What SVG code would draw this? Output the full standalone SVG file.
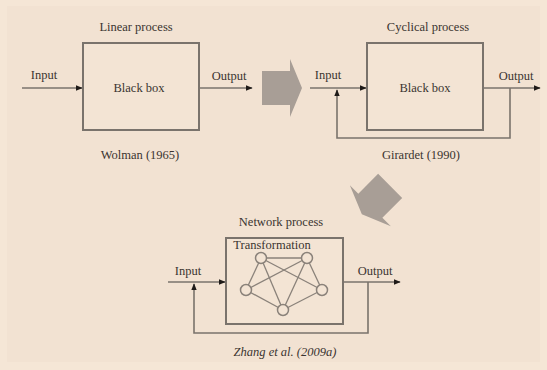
<svg xmlns="http://www.w3.org/2000/svg" width="547" height="370" viewBox="0 0 547 370">
<defs>
<style>
.t{font-family:"Liberation Serif","DejaVu Serif",serif;font-size:12.5px;fill:#3a3430;text-anchor:middle}
.box{fill:#f3e4d4;stroke:#7a736c;stroke-width:2}
.ln{fill:none;stroke:#7a736c;stroke-width:1.6}
.fat{fill:#a89e96}
.nd{fill:#f3e4d4;stroke:#8a827a;stroke-width:1.5}
.ed{stroke:#8a827a;stroke-width:1.3;fill:none}
</style>
<marker id="ah" viewBox="0 0 10 10" refX="9" refY="5" markerWidth="7" markerHeight="7" markerUnits="userSpaceOnUse" orient="auto">
<path d="M0,1 L10,5 L0,9 Z" fill="#1e1a18"/>
</marker>
<path id="fatArrow" d="M-20,-17 L8,-17 L8,-29 L20,0 L8,29 L8,17 L-20,17 Z"/>
</defs>
<rect x="0" y="0" width="547" height="370" fill="#f5e6d6"/>
<rect x="7" y="6" width="533" height="356" fill="#f2e2d2"/>

<g id="connectors">
<line class="ln" x1="22" y1="88" x2="82" y2="88" marker-end="url(#ah)"/>
<line class="ln" x1="199" y1="88" x2="252" y2="88" marker-end="url(#ah)"/>
<line class="ln" x1="310" y1="88" x2="366" y2="88" marker-end="url(#ah)"/>
<line class="ln" x1="484" y1="88" x2="540" y2="88" marker-end="url(#ah)"/>
<polyline class="ln" points="510,88 510,138 337,138 337,90" marker-end="url(#ah)"/>
<line class="ln" x1="168" y1="282" x2="225" y2="282" marker-end="url(#ah)"/>
<line class="ln" x1="344" y1="282" x2="400" y2="282" marker-end="url(#ah)"/>
<polyline class="ln" points="368,282 368,333 194,333 194,284" marker-end="url(#ah)"/>
</g>

<g id="fat-arrow-1"><use href="#fatArrow" class="fat" transform="translate(282,88)"/></g>
<g id="fat-arrow-2"><use href="#fatArrow" class="fat" transform="translate(376,200) rotate(135)"/></g>

<g id="linear">
<text class="t" x="136" y="31">Linear process</text>
<rect class="box" x="83" y="43" width="116" height="87"/>
<text class="t" x="139" y="92">Black box</text>
<text class="t" x="44" y="79">Input</text>
<text class="t" x="229" y="80">Output</text>
<text class="t" x="140" y="159">Wolman (1965)</text>
</g>

<g id="cyclical">
<text class="t" x="428" y="31">Cyclical process</text>
<rect class="box" x="367" y="43" width="116" height="87"/>
<text class="t" x="425" y="92">Black box</text>
<text class="t" x="328" y="79">Input</text>
<text class="t" x="516" y="80">Output</text>
<text class="t" x="421" y="159">Girardet (1990)</text>
</g>

<g id="network">
<text class="t" x="281" y="226">Network process</text>
<rect class="box" x="226" y="238" width="117" height="86"/>
<text class="t" x="272" y="249">Transformation</text>
<g class="ed">
<line x1="261" y1="258" x2="307" y2="258"/>
<line x1="261" y1="258" x2="246" y2="290"/>
<line x1="261" y1="258" x2="283" y2="310"/>
<line x1="261" y1="258" x2="322" y2="290"/>
<line x1="307" y1="258" x2="322" y2="290"/>
<line x1="307" y1="258" x2="283" y2="310"/>
<line x1="307" y1="258" x2="246" y2="290"/>
<line x1="246" y1="290" x2="283" y2="310"/>
<line x1="322" y1="290" x2="283" y2="310"/>
</g>
<circle class="nd" cx="261" cy="258" r="5.5"/>
<circle class="nd" cx="307" cy="258" r="5.5"/>
<circle class="nd" cx="246" cy="290" r="5.5"/>
<circle class="nd" cx="322" cy="290" r="5.5"/>
<circle class="nd" cx="283" cy="310" r="5.5"/>
<text class="t" x="188" y="275">Input</text>
<text class="t" x="375" y="275">Output</text>
<text class="t" x="285" y="356" font-style="italic">Zhang et al. (2009a)</text>
</g>
</svg>
